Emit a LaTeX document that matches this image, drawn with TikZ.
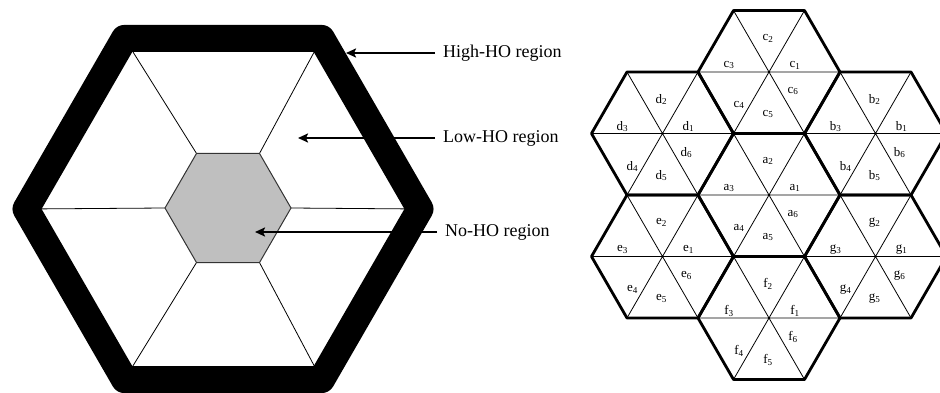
\documentclass[tikz,border=0pt]{standalone}
\usepackage{fontspec}
\setmainfont{Liberation Serif}
\usetikzlibrary{arrows.meta}
\definecolor{gris}{gray}{0.75}
\tikzset{
  fleche/.style={-{Stealth[length=10pt,width=9pt,inset=2pt]}, line width=2pt},
  legende/.style={font=\fontsize{18}{20}\selectfont, anchor=west, inner xsep=8pt, inner ysep=0pt},
  cellule/.style={font=\fontsize{13}{14}\selectfont, inner sep=0pt},
  fin/.style={line width=0.8pt},
  bord/.style={line width=2.8pt, line join=round},
}

\begin{document}
\begin{tikzpicture}[x=1pt,y=1pt]
\useasboundingbox (0,0) rectangle (940,392);

% Grande cellule : centre et secteurs
\coordinate (O) at (223,183);
\coordinate (G) at (228,184);
\foreach \k in {0,...,5}{
  \coordinate (ext\k) at ([shift={(\k*60:197)}]O);
  \coordinate (int\k) at ([shift={(\k*60:63)}]G);
  \draw[fin] (int\k) -- (ext\k);
}

% Zone sans HO (grise)
\filldraw[fill=gris, draw=black!80, line width=1pt]
  (int0) -- (int1) -- (int2) -- (int3) -- (int4) -- (int5) -- cycle;

% Bande noire : zone High-HO
\draw[line width=27pt, line join=round]
  (ext0) -- (ext1) -- (ext2) -- (ext3) -- (ext4) -- (ext5) -- cycle;

% Légendes et flèches
\node[legende] (haut) at (435,339) {High-HO region};
\node[legende] (bas) at (435,254) {Low-HO region};
\node[legende] (sans) at (437,160) {No-HO region};
\coordinate (pHaut) at (346,339);
\coordinate (pBas) at (298,254);
\coordinate (pSans) at (255,160);
\draw[fleche] (haut.west) -- (pHaut);
\draw[fleche] (bas.west) -- (pBas);
\draw[fleche] (sans.west) -- (pSans);

% Motif de réutilisation : 7 cellules de 6 secteurs
\foreach \nom/\ang/\dist in {a/0/0, b/30/123, c/90/123, d/150/123, e/210/123, f/270/123, g/330/123}{
  \begin{scope}[shift={(769,197)}, shift={(\ang:\dist)}]
    \coordinate (\nom) at (0,0);
    \draw[fin] (0:71) -- (180:71) (60:71) -- (240:71) (120:71) -- (300:71);
    \foreach \i/\dx/\dy in {1/26/7, 2/-1/34, 3/-40/7, 4/-30/-33, 5/-1/-42, 6/24/-19}
      \node[cellule] (\nom\i) at (\dx,\dy) {\nom\textsubscript{\i}};
  \end{scope}
}
\foreach \ang/\dist in {0/0, 30/123, 90/123, 150/123, 210/123, 270/123, 330/123}{
  \begin{scope}[shift={(769,197)}, shift={(\ang:\dist)}]
    \draw[bord] (0:71) -- (60:71) -- (120:71) -- (180:71) -- (240:71) -- (300:71) -- cycle;
  \end{scope}
}
\end{tikzpicture}
\end{document}
